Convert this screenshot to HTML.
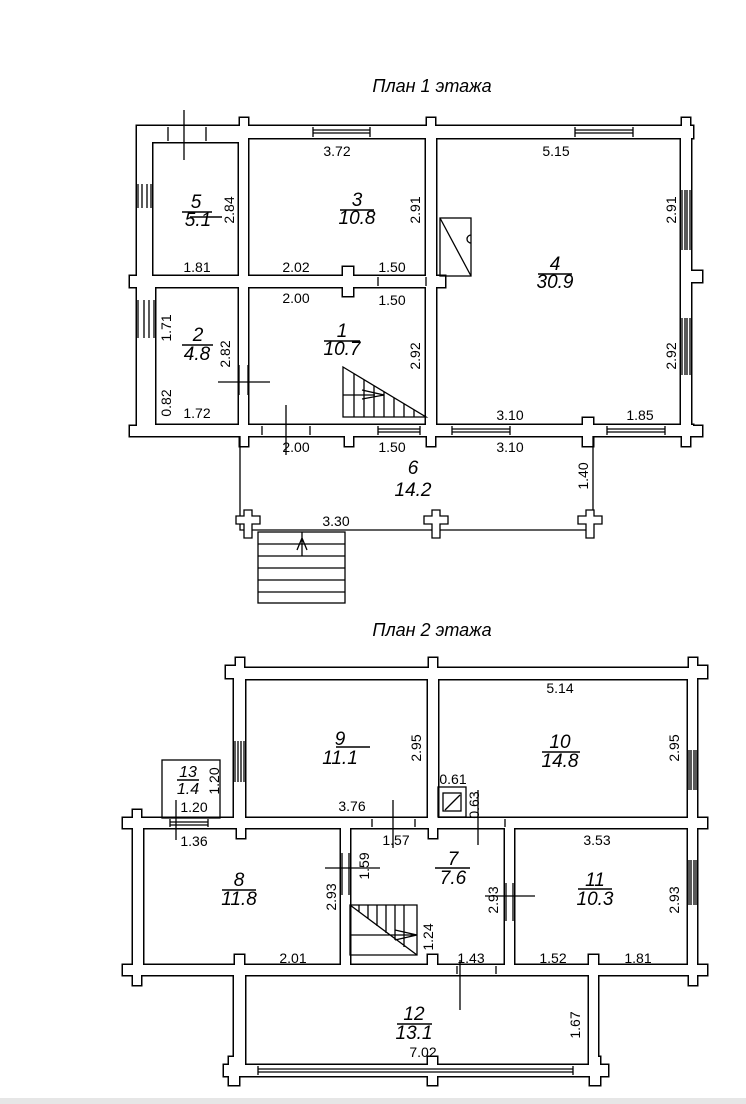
<!DOCTYPE html>
<html><head><meta charset="utf-8"><style>
html,body{margin:0;padding:0;background:#fff}
svg{display:block}
text{font-family:"Liberation Sans",sans-serif;fill:#000}
.d{font-size:14px}
.n{font-size:19px;font-style:italic}
.t{font-size:18px;font-style:italic}
</style></head><body>
<svg width="746" height="1104" viewBox="0 0 746 1104" xmlns="http://www.w3.org/2000/svg">
<rect width="746" height="1104" fill="#fff"/>
<text class="t" x="432" y="92" text-anchor="middle">План 1 этажа</text>
<text class="t" x="432" y="636" text-anchor="middle">План 2 этажа</text>

<!-- PLAN 1 walls -->
<g id="w1">
<rect x="137" y="126" width="556" height="12"/>
<rect x="137" y="126" width="103" height="16"/>
<rect x="137" y="126" width="15" height="150"/>
<rect x="137" y="276" width="18" height="160"/>
<rect x="681" y="126" width="10" height="310"/>
<rect x="137" y="425" width="556" height="11"/>
<rect x="130" y="276" width="306" height="11"/>
<rect x="239" y="126" width="9" height="310"/>
<rect x="426" y="126" width="10" height="310"/>
<rect x="240" y="118" width="8" height="10"/>
<rect x="427" y="118" width="8" height="10"/>
<rect x="682" y="118" width="8" height="10"/>
<rect x="690" y="271" width="12" height="11"/>
<rect x="690" y="426" width="12" height="10"/>
<rect x="130" y="426" width="8" height="10"/>
<rect x="682" y="434" width="8" height="12"/>
<rect x="583" y="418" width="10" height="28"/>
<rect x="427" y="434" width="8" height="12"/>
<rect x="240" y="434" width="8" height="12"/>
<rect x="345" y="434" width="8" height="12"/>
<rect x="343" y="267" width="10" height="29"/>
<rect x="426" y="276" width="19" height="11"/>
<rect x="145" y="365" width="10" height="30"/>
</g>
<!-- PLAN 2 walls -->
<g id="w2">
<rect x="234" y="668" width="463" height="11"/>
<rect x="234" y="668" width="11" height="160"/>
<rect x="123" y="818" width="584" height="10"/>
<rect x="133" y="818" width="10" height="157"/>
<rect x="123" y="965" width="584" height="10"/>
<rect x="341" y="818" width="9" height="157"/>
<rect x="428" y="668" width="10" height="160"/>
<rect x="505" y="818" width="9" height="157"/>
<rect x="688" y="668" width="9" height="307"/>
<rect x="234" y="975" width="11" height="100"/>
<rect x="589" y="975" width="9" height="100"/>
<rect x="234" y="1065" width="364" height="11"/>
<rect x="236" y="658" width="8" height="12"/>
<rect x="429" y="658" width="8" height="12"/>
<rect x="689" y="658" width="8" height="12"/>
<rect x="697" y="666" width="10" height="12"/>
<rect x="226" y="666" width="10" height="12"/>
<rect x="133" y="810" width="8" height="10"/>
<rect x="133" y="973" width="8" height="12"/>
<rect x="689" y="973" width="8" height="12"/>
<rect x="237" y="826" width="8" height="12"/>
<rect x="429" y="826" width="8" height="12"/>
<rect x="235" y="955" width="9" height="12"/>
<rect x="428" y="955" width="9" height="12"/>
<rect x="589" y="955" width="9" height="12"/>
<rect x="224" y="1065" width="10" height="11"/>
<rect x="598" y="1065" width="10" height="11"/>
<rect x="229" y="1057" width="10" height="28"/>
<rect x="590" y="1057" width="10" height="28"/>
<rect x="428" y="1057" width="9" height="28"/>
</g>
<use href="#w1" fill="none" stroke="#000" stroke-width="3"/>
<use href="#w2" fill="none" stroke="#000" stroke-width="3"/>
<use href="#w1" fill="#fff"/>
<use href="#w2" fill="#fff"/>

<g stroke="#000" stroke-width="1.3" fill="none">
<!-- plan1 windows -->
<path d="M313 127V137M370 127V137M313 130H370M313 133H370"/>
<path d="M575 127V137M633 127V137M575 130H633M575 133H633"/>
<path d="M682 190V250M690 190V250M685 190V250M687 190V250"/>
<path d="M682 318V375M690 318V375M685 318V375M687 318V375"/>
<path d="M138 184V208M151 184V208M142 184V208M147 184V208"/>
<path d="M138 300V338M154 300V338M144 300V338M149 300V338"/>
<path d="M378 426V435M420 426V435M378 429H420M378 432H420"/>
<path d="M452 426V435M510 426V435M452 429H510M452 432H510"/>
<path d="M607 426V435M665 426V435M607 429H665M607 432H665"/>
<!-- door gaps plan1 -->
<path d="M262 426V435M310 426V435M378 277V286M426 277V286M239 365V395M248 365V395M168 127V141M206 127V141"/>
<!-- door swings -->
<path d="M184 110V160M218 382H270M286 405V455"/>
<!-- fireplace room 4 -->
<rect x="440" y="218" width="31" height="58"/>
<path d="M440 218L471 276M471 235A4 4 0 0 0 471 243"/>
<!-- stairs room1 -->
<path d="M343 367L426 417H343Z"/>
<path d="M343 395H375M354 374V417M364 380V417M374 386V417M384 392V417M394 398V417M404 404V417M414 410V417M362 390L384 395L362 399"/>
<!-- porch -->
<path d="M240 436V530H593V436"/>
<!-- porch crosses -->
<path d="M236 516h8v-6h8v6h8v8h-8v14h-8v-14h-8z" fill="#fff"/>
<path d="M424 516h8v-6h8v6h8v8h-8v14h-8v-14h-8z" fill="#fff"/>
<path d="M578 516h8v-6h8v6h8v8h-8v14h-8v-14h-8z" fill="#fff"/>
<!-- porch stairs -->
<rect x="258" y="532" width="87" height="71"/>
<path d="M258 544H345M258 556H345M258 568H345M258 580H345M258 592H345M302 532V556M297 550L302 538L307 550"/>

<!-- plan2 windows -->
<path d="M235 741V782M244 741V782M238 741V782M241 741V782"/>
<path d="M689 750V790M696 750V790M691 750V790M694 750V790"/>
<path d="M689 860V905M696 860V905M691 860V905M694 860V905"/>
<path d="M170 819V827M208 819V827M170 822H208M170 825H208"/>
<path d="M258 1066V1075M573 1066V1075M258 1069H573M258 1072H573"/>
<!-- doors plan2 -->
<path d="M372 819V827M415 819V827M457 966V974M496 966V974M342 853V895M349 853V895M506 883V921M513 883V921M505 819V827"/>
<path d="M393 800V848M460 960V1010M325 868H380M485 896H535M478 790V845M176 800V840"/>
<!-- room 13 -->
<rect x="162" y="760" width="58" height="58"/>
<!-- chimney -->
<rect x="438" y="787" width="28" height="30"/>
<rect x="443" y="793" width="18" height="18"/>
<path d="M445 810L460 795"/>
<!-- stairs room7 -->
<path d="M350 905H417V955H350Z"/>
<path d="M350 905L417 955M359 905V912M368 905V919M377 905V926M386 905V933M395 905V940M404 905V947M350 935H417M395 930L417 935L395 940"/>
</g>

<!-- room labels -->
<g stroke="#000" stroke-width="1.5">
<path d="M182 212H212M190 217H222M340 210H374M538 274H572M182 345H213M324 341H360M177 780H199M336 747H370M542 752H580M222 890H256M435 868H470M578 889H612M397 1024H432"/>
</g>
<text class="n" x="196" y="208" text-anchor="middle">5</text>
<text class="n" x="198" y="226" text-anchor="middle">5.1</text>
<text class="n" x="357" y="206" text-anchor="middle">3</text>
<text class="n" x="357" y="224" text-anchor="middle">10.8</text>
<text class="n" x="555" y="270" text-anchor="middle">4</text>
<text class="n" x="555" y="288" text-anchor="middle">30.9</text>
<text class="n" x="198" y="341" text-anchor="middle">2</text>
<text class="n" x="197" y="360" text-anchor="middle">4.8</text>
<text class="n" x="342" y="337" text-anchor="middle">1</text>
<text class="n" x="342" y="355" text-anchor="middle">10.7</text>
<text class="n" x="413" y="474" text-anchor="middle">6</text>
<text class="n" x="413" y="496" text-anchor="middle">14.2</text>
<text class="n" x="340" y="745" text-anchor="middle">9</text>
<text class="n" x="340" y="764" text-anchor="middle">11.1</text>
<text class="n" x="560" y="748" text-anchor="middle">10</text>
<text class="n" x="560" y="767" text-anchor="middle">14.8</text>
<text class="n" x="188" y="777" text-anchor="middle" style="font-size:16px">13</text>
<text class="n" x="188" y="794" text-anchor="middle" style="font-size:16px">1.4</text>
<text class="n" x="239" y="886" text-anchor="middle">8</text>
<text class="n" x="239" y="905" text-anchor="middle">11.8</text>
<text class="n" x="453" y="865" text-anchor="middle">7</text>
<text class="n" x="453" y="884" text-anchor="middle">7.6</text>
<text class="n" x="595" y="886" text-anchor="middle">11</text>
<text class="n" x="595" y="905" text-anchor="middle">10.3</text>
<text class="n" x="414" y="1020" text-anchor="middle">12</text>
<text class="n" x="414" y="1039" text-anchor="middle">13.1</text>

<!-- dimensions plan1 -->
<g class="d">
<text x="337" y="156" text-anchor="middle">3.72</text>
<text x="556" y="156" text-anchor="middle">5.15</text>
<text x="197" y="272" text-anchor="middle">1.81</text>
<text x="296" y="272" text-anchor="middle">2.02</text>
<text x="392" y="272" text-anchor="middle">1.50</text>
<text x="296" y="303" text-anchor="middle">2.00</text>
<text x="392" y="305" text-anchor="middle">1.50</text>
<text x="197" y="418" text-anchor="middle">1.72</text>
<text x="296" y="452" text-anchor="middle">2.00</text>
<text x="392" y="452" text-anchor="middle">1.50</text>
<text x="510" y="420" text-anchor="middle">3.10</text>
<text x="640" y="420" text-anchor="middle">1.85</text>
<text x="510" y="452" text-anchor="middle">3.10</text>
<text x="336" y="526" text-anchor="middle">3.30</text>
<text transform="translate(234,210) rotate(-90)" text-anchor="middle">2.84</text>
<text transform="translate(420,210) rotate(-90)" text-anchor="middle">2.91</text>
<text transform="translate(676,210) rotate(-90)" text-anchor="middle">2.91</text>
<text transform="translate(676,356) rotate(-90)" text-anchor="middle">2.92</text>
<text transform="translate(420,356) rotate(-90)" text-anchor="middle">2.92</text>
<text transform="translate(230,354) rotate(-90)" text-anchor="middle">2.82</text>
<text transform="translate(171,328) rotate(-90)" text-anchor="middle">1.71</text>
<text transform="translate(171,403) rotate(-90)" text-anchor="middle">0.82</text>
<text transform="translate(588,476) rotate(-90)" text-anchor="middle">1.40</text>
<!-- plan2 -->
<text x="560" y="693" text-anchor="middle">5.14</text>
<text x="352" y="811" text-anchor="middle">3.76</text>
<text x="453" y="784" text-anchor="middle">0.61</text>
<text x="194" y="812" text-anchor="middle">1.20</text>
<text x="194" y="846" text-anchor="middle">1.36</text>
<text x="396" y="845" text-anchor="middle">1.57</text>
<text x="597" y="845" text-anchor="middle">3.53</text>
<text x="293" y="963" text-anchor="middle">2.01</text>
<text x="471" y="963" text-anchor="middle">1.43</text>
<text x="553" y="963" text-anchor="middle">1.52</text>
<text x="638" y="963" text-anchor="middle">1.81</text>
<text x="423" y="1057" text-anchor="middle">7.02</text>
<text transform="translate(421,748) rotate(-90)" text-anchor="middle">2.95</text>
<text transform="translate(679,748) rotate(-90)" text-anchor="middle">2.95</text>
<text transform="translate(219,781) rotate(-90)" text-anchor="middle">1.20</text>
<text transform="translate(479,805) rotate(-90)" text-anchor="middle">0.63</text>
<text transform="translate(369,866) rotate(-90)" text-anchor="middle">1.59</text>
<text transform="translate(336,897) rotate(-90)" text-anchor="middle">2.93</text>
<text transform="translate(498,900) rotate(-90)" text-anchor="middle">2.93</text>
<text transform="translate(679,900) rotate(-90)" text-anchor="middle">2.93</text>
<text transform="translate(433,937) rotate(-90)" text-anchor="middle">1.24</text>
<text transform="translate(580,1025) rotate(-90)" text-anchor="middle">1.67</text>
</g>
<rect x="0" y="1098" width="746" height="6" fill="#e6e6e6"/>
</svg>
</body></html>
